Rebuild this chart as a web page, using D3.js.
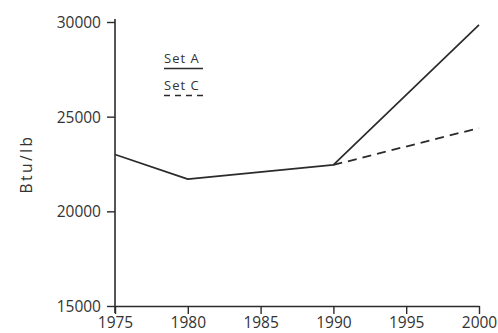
<!DOCTYPE html>
<html>
<head>
<meta charset="utf-8">
<script src="https://cdn.jsdelivr.net/npm/d3@7"></script>
<style>
  html, body { margin: 0; padding: 0; background: #fff; }
  svg { display: block; }
  .tick text { font-family: "Open Sans", "DejaVu Sans", sans-serif; }
</style>
</head>
<body>
<svg id="chart" width="498" height="333"></svg>
<script>
// Heating value projections (Btu/lb)
const years = [1975, 1980, 1990, 2000];
const setA = [23000, 21700, 22450, 29850];
const setC = [23000, 21700, 22450, 24400];
const xTicks = [1975, 1980, 1985, 1990, 1995, 2000];
const yTicks = [15000, 20000, 25000, 30000];
const seriesNames = ["Set A", "Set C"];

const svg = d3.select("#chart");
const ink = "#2b2b2b";
const font = "'Open Sans', 'DejaVu Sans', sans-serif";

const x = d3.scaleLinear().domain([1975, 2000]).range([115, 479]);
const y = d3.scaleLinear().domain([15000, 30000]).range([306, 22]);

// Axes
const yAxis = d3.axisLeft(y).tickValues(yTicks).tickSize(8).tickSizeOuter(0).tickPadding(6)
  .tickFormat(d3.format("d"));
const xAxis = d3.axisBottom(x).tickValues(xTicks).tickSize(8).tickSizeOuter(0).tickPadding(3)
  .tickFormat(d3.format("d"));

const gy = svg.append("g").attr("transform", `translate(${x(1975)},0)`).call(yAxis);
const gx = svg.append("g").attr("transform", `translate(0,${y(15000)})`).call(xAxis);

[gx, gy].forEach(g => {
  g.select(".domain").attr("stroke", ink).attr("stroke-width", 1.6);
  g.selectAll(".tick line").attr("stroke", ink).attr("stroke-width", 1.4);
  g.selectAll(".tick text").attr("fill", "#333").attr("font-size", 15.5);
});
gy.selectAll(".tick text").attr("dy", "0.36em");
// extend the value axis slightly past the top tick
gy.select(".domain").attr("d", `M0,${y(30000) - 3}V${y(15000) + 7}`);

// Y axis title
svg.append("text")
  .attr("transform", `translate(32,${(y(30000) + y(15000)) / 2}) rotate(-90)`)
  .attr("text-anchor", "middle")
  .attr("font-family", font)
  .attr("font-size", 15.5)
  .attr("letter-spacing", 2.5)
  .attr("fill", "#333")
  .text("Btu/lb");

// Series lines
const pts = (vals) => years.map((yr, i) => ({ yr, v: vals[i] }));
const line = d3.line().x(d => x(d.yr)).y(d => y(d.v));

svg.append("path")
  .datum(pts(setC).filter(d => d.yr >= 1990))
  .attr("d", line)
  .attr("fill", "none")
  .attr("stroke", ink)
  .attr("stroke-width", 1.8)
  .attr("stroke-dasharray", "9,6");

svg.append("path")
  .datum(pts(setA))
  .attr("d", line)
  .attr("fill", "none")
  .attr("stroke", ink)
  .attr("stroke-width", 1.7)
  .attr("stroke-linejoin", "round");

// Legend
const legend = svg.append("g").attr("transform", "translate(164,0)");
const legendRows = [
  { name: seriesNames[0], base: 63, dash: null },
  { name: seriesNames[1], base: 90, dash: "6,5" }
];
legendRows.forEach(r => {
  legend.append("text")
    .attr("x", 0).attr("y", r.base)
    .attr("font-family", font)
    .attr("font-size", 13)
    .attr("letter-spacing", 1)
    .attr("fill", "#333")
    .text(r.name);
  legend.append("line")
    .attr("x1", 0).attr("x2", 39)
    .attr("y1", r.base + 5.5).attr("y2", r.base + 5.5)
    .attr("stroke", ink).attr("stroke-width", 1.6)
    .attr("stroke-dasharray", r.dash);
});
</script>
</body>
</html>
